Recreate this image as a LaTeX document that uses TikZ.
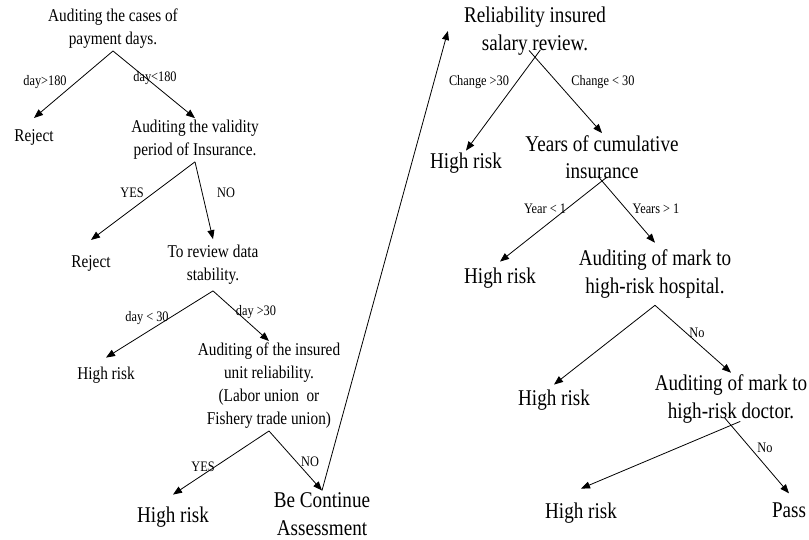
\documentclass[tikz,border=0pt]{standalone}
\usepackage{fontspec}
\setmainfont{Liberation Serif}[FakeStretch=0.85]
\usetikzlibrary{arrows.meta}

\tikzset{
  small/.style={align=center,inner sep=2pt,font=\fontsize{18}{23}\selectfont},
  big/.style={align=center,inner sep=2pt,font=\fontsize{22.5}{27.5}\selectfont},
  lbl/.style={inner sep=0pt,font=\fontsize{14.5}{17}\selectfont},
  arr/.style={-{Triangle[length=9pt,width=7pt]},line width=0.8pt},
}

\begin{document}
\begin{tikzpicture}[x=1pt,y=-1pt]
\useasboundingbox (0,0) rectangle (809,539);

% left tree
\node[small] (audit) at (113,29) {Auditing the cases of\\payment days.};
\node[small,inner ysep=11pt] (rejA) at (34,137) {Reject};
\node[small] (valid) at (195,140) {Auditing the validity\\period of Insurance.};
\node[small,inner ysep=15pt] (rejB) at (91,263) {Reject};
\node[small,inner ysep=6pt] (review) at (213,265) {To review data\\stability.};
\node[small,inner ysep=9pt] (riskA) at (106,375) {High risk};
\node[small] (unit) at (269,386) {Auditing of the insured\\unit reliability.\\(Labor union~ or\\Fishery trade union)};
\node[big,inner ysep=12pt] (riskB) at (173,517) {High risk};
\node[big] (cont) at (322,514) {Be Continue\\Assessment};

% right tree
\node[big,inner xsep=16pt] (salary) at (535,31) {Reliability insured\\salary review.};
\node[big] (riskC) at (466,163) {High risk};
\node[big] (years) at (602,157) {Years of cumulative\\insurance};
\node[big,inner ysep=6pt] (riskD) at (500,278) {High risk};
\node[big,inner ysep=7pt] (hosp) at (655,274) {Auditing of mark to\\high-risk hospital.};
\node[big,inner ysep=5pt] (riskE) at (554,400) {High risk};
\node[big] (doctor) at (731,399) {Auditing of mark to\\high-risk doctor.};
\node[big,inner ysep=14pt] (riskF) at (581,513) {High risk};
\node[big,inner ysep=9pt] (pass) at (789,510) {Pass};

\draw[arr] (audit.south) -- (rejA.north); %1
\draw[arr] (audit.south) -- (valid.north); %2
\draw[arr] (valid.south) -- (rejB.north); %3
\draw[arr] (valid.south) -- (review.north); %4
\draw[arr] (review.south) -- (riskA.north); %5
\draw[arr] (review.south) -- (unit.north); %6
\draw[arr] (unit.south) -- (riskB.north); %7
\draw[arr] (unit.south) -- (cont.north); %8
\draw[arr] (cont.north) -- (salary.west); %9

\draw[arr,shorten <=-9pt] (salary.south) -- (riskC.north); %10
\draw[arr,shorten <=-9pt] (salary.south) -- (years.north); %11
\draw[arr,shorten <=-6pt] (years.south) -- (riskD.north); %12
\draw[arr,shorten <=-6pt] (years.south) -- (hosp.north); %13
\draw[arr] (hosp.south) -- (riskE.north); %14
\draw[arr] (hosp.south) -- (doctor.north); %15
\draw[arr,shorten <=-10pt] (doctor.south) -- (riskF.north); %16
\draw[arr,shorten <=-10pt] (doctor.south) -- (pass.north); %17

\node[lbl] (d1) at (45,82) {day>180};
\node[lbl] (d2) at (155,78) {day<180};
\node[lbl] (y1) at (132,193) {YES};
\node[lbl] (n1) at (226,193) {NO};
\node[lbl] (d3) at (147,318) {day < 30};
\node[lbl] (d4) at (256,312) {day >30};
\node[lbl] (y2) at (203,467) {YES};
\node[lbl] (n2) at (310,462) {NO};

\node[lbl] (c1) at (479,82) {Change >30};
\node[lbl] (c2) at (603,82) {Change < 30};
\node[lbl] (t1) at (545,209) {Year < 1};
\node[lbl] (t2) at (656,209) {Years > 1};
\node[lbl] (n3) at (697,333) {No};
\node[lbl] (n4) at (765,448) {No};
\end{tikzpicture}
\end{document}
